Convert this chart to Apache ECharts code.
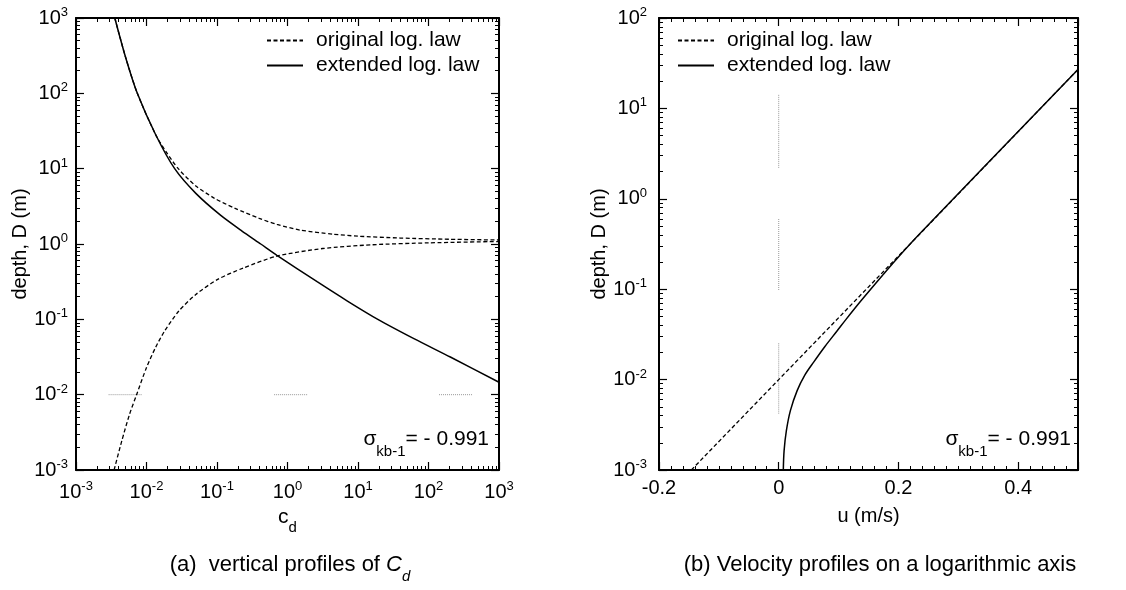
<!DOCTYPE html>
<html lang="en">
<head>
<meta charset="UTF-8" />
<title>cd and velocity profiles</title>
<script src="https://cdn.jsdelivr.net/npm/echarts@6/dist/echarts.min.js"></script>
<style>
  * { margin: 0; padding: 0; }
  body { background: #fff; }
  #charts { width: 1126px; height: 590px; }
</style>
</head>
<body>
<div id="charts"></div>
<script>
var legendNames = ["original log. law", "extended log. law"];

// (a) drag coefficient cd against depth D (m)
var cdExtended = [
  [0.00355, 1000], [0.00501, 309], [0.00741, 100], [0.0135, 28.2], [0.0251, 10],
  [0.0501, 4.7], [0.112, 2.415], [0.224, 1.496], [0.417, 1], [0.708, 0.708],
  [2.63, 0.316], [7.08, 0.175], [19.1, 0.1], [63.1, 0.055], [204, 0.0316], [1000, 0.0146]
];
var cdOriginalUpper = [
  [0.00355, 1000], [0.00501, 309], [0.00741, 100], [0.0135, 28.2], [0.0191, 16.6],
  [0.0282, 10], [0.0501, 5.89], [0.0912, 4.07], [0.178, 2.99], [0.398, 2.19],
  [0.708, 1.82], [1.51, 1.53], [4.47, 1.35], [10, 1.27], [39.8, 1.2], [200, 1.156], [1000, 1.13]
];
var cdOriginalLower = [
  [0.00347, 0.001], [0.00447, 0.00245], [0.00575, 0.0055], [0.00724, 0.01], [0.01, 0.0229],
  [0.0135, 0.0427], [0.0182, 0.0708], [0.0288, 0.129], [0.0501, 0.214], [0.102, 0.339],
  [0.234, 0.479], [0.708, 0.69], [3.16, 0.871], [15.8, 0.977], [100, 1.035], [1000, 1.08]
];
var cdGuideDepth = 0.01;
var cdGuideRanges = [[0.0029, 0.0086], [0.646, 1.95], [141, 417]];

// (b) velocity u (m/s) against depth D (m)
var uOriginal = [[-0.146, 0.001], [0, 0.01], [0.236, 0.41], [0.5, 27]];
var uExtended = [
  [0.0077, 0.001], [0.009, 0.00164], [0.0128, 0.00272], [0.0195, 0.00454], [0.0308, 0.00755],
  [0.0436, 0.0112], [0.059, 0.0158], [0.0769, 0.0231], [0.0974, 0.0345], [0.1128, 0.0467],
  [0.1385, 0.0759], [0.174, 0.144], [0.2, 0.2275], [0.236, 0.413], [0.5, 27]
];
var uGuideVelocity = 0;
var uGuideRanges = [[0.0042, 0.0254], [0.098, 0.61], [2.2, 14.5]];

var sigmaValue = "= - 0.991";

var font = "Liberation Sans, Arial, sans-serif";

var powRich = {
  b: { fontSize: 20, fontFamily: font, color: "#000", lineHeight: 24 },
  s: { fontSize: 13, fontFamily: font, color: "#000", verticalAlign: "top", lineHeight: 13 }
};
function powLabel(v) {
  return "{b|10}{s|" + Math.round(Math.log10(v)) + "}";
}

function frameAxis(grid, pos, withLabel) {
  return {
    gridIndex: grid,
    position: pos,
    axisLine: { show: true, onZero: false, lineStyle: { color: "#000", width: 2 } },
    axisTick: { show: true, inside: true, length: 8, lineStyle: { color: "#000", width: 1.2 } },
    splitLine: { show: false },
    axisLabel: { show: withLabel, color: "#000", fontFamily: font, fontSize: 20, margin: 8 }
  };
}
function logAxis(grid, pos, min, max, withLabel) {
  var a = frameAxis(grid, pos, withLabel);
  a.type = "log";
  a.logBase = 10;
  a.min = min;
  a.max = max;
  a.minorTick = { show: true, splitNumber: 9, length: 4, lineStyle: { color: "#000", width: 1 } };
  a.axisLabel.formatter = powLabel;
  a.axisLabel.rich = powRich;
  return a;
}
function valueAxis(grid, pos, withLabel) {
  var a = frameAxis(grid, pos, withLabel);
  a.type = "value";
  a.min = -0.2;
  a.max = 0.5;
  a.interval = 0.2;
  a.minorTick = { show: true, splitNumber: 10, length: 4, lineStyle: { color: "#000", width: 1 } };
  a.axisLabel.showMaxLabel = false;
  return a;
}

var dashed = { color: "#000", width: 1.3, type: [4, 2.5] };
var solid = { color: "#000", width: 1.5, type: "solid" };
function curve(name, data, style, xi, yi, smooth) {
  return {
    name: name, type: "line", data: data, xAxisIndex: xi, yAxisIndex: yi,
    symbol: "none", smooth: smooth, lineStyle: style, itemStyle: { color: "#000" },
    silent: true, z: 3
  };
}
function guide(data, xi, yi) {
  return {
    type: "line", data: data, xAxisIndex: xi, yAxisIndex: yi, symbol: "none", silent: true,
    lineStyle: { color: "#999", width: 1, type: "dotted" }, z: 1
  };
}

var series = [
  curve(legendNames[0], cdOriginalUpper, dashed, 0, 0, 0.25),
  curve(legendNames[0], cdOriginalLower, dashed, 0, 0, 0.25),
  curve(legendNames[1], cdExtended, solid, 0, 0, 0.25),
  curve(legendNames[0], uOriginal, dashed, 2, 2, false),
  curve(legendNames[1], uExtended, solid, 2, 2, 0.35)
];
cdGuideRanges.forEach(function (r) {
  series.push(guide([[r[0], cdGuideDepth], [r[1], cdGuideDepth]], 0, 0));
});
uGuideRanges.forEach(function (r) {
  series.push(guide([[uGuideVelocity, r[0]], [uGuideVelocity, r[1]]], 2, 2));
});

var xa0 = logAxis(0, "bottom", 1e-3, 1e3, true);
xa0.axisLabel.margin = 10;
xa0.name = "{c|c}{d|d}";
xa0.nameLocation = "middle";
xa0.nameGap = 36;
xa0.nameTextStyle = {
  rich: {
    c: { fontSize: 21, fontFamily: font, color: "#000", verticalAlign: "top", lineHeight: 28 },
    d: { fontSize: 15, fontFamily: font, color: "#000", verticalAlign: "bottom" }
  }
};
var ya0 = logAxis(0, "left", 1e-3, 1e3, true);
ya0.name = "depth, D (m)";
ya0.nameLocation = "middle";
ya0.nameGap = 38;
ya0.nameTextStyle = { fontSize: 20, fontFamily: font, color: "#000" };

var xa2 = valueAxis(1, "bottom", true);
xa2.name = "u (m/s)";
xa2.nameLocation = "middle";
xa2.nameGap = 36;
xa2.nameTextStyle = { fontSize: 20, fontFamily: font, color: "#000" };
var ya2 = logAxis(1, "left", 1e-3, 1e2, true);
ya2.axisLabel.margin = 12;
ya2.name = "depth, D (m)";
ya2.nameLocation = "middle";
ya2.nameGap = 46;
ya2.nameTextStyle = { fontSize: 20, fontFamily: font, color: "#000" };

var sigmaRich = {
  g: { fontSize: 21, fontFamily: font, color: "#000", verticalAlign: "top", lineHeight: 31 },
  k: { fontSize: 15, fontFamily: font, color: "#000", verticalAlign: "bottom" },
  t: { fontSize: 21, fontFamily: font, color: "#000", verticalAlign: "top", lineHeight: 31 }
};
var sigmaText = "{g|σ}{k|kb-1}{t|" + sigmaValue + "}";
var captionRich = {
  n: { fontSize: 22, fontFamily: font, color: "#000", verticalAlign: "top", lineHeight: 30 },
  i: { fontSize: 22, fontFamily: font, fontStyle: "italic", color: "#000", verticalAlign: "top", lineHeight: 30 },
  j: { fontSize: 15, fontFamily: font, fontStyle: "italic", color: "#000", verticalAlign: "bottom" }
};

function legendAt(left) {
  return {
    data: legendNames, orient: "vertical", left: left, top: 30, itemWidth: 36, itemHeight: 20,
    itemGap: 4, selectedMode: false, padding: 0, itemStyle: { opacity: 0 },
    textStyle: { fontSize: 21, fontFamily: font, color: "#000", padding: [0, 0, 0, 8] }
  };
}

var myEcharts = echarts.init(document.getElementById("charts"), null, { renderer: "canvas" });
myEcharts.setOption({
  animation: false,
  backgroundColor: "#fff",
  grid: [
    { left: 76, top: 18, width: 423, height: 452 },
    { left: 659, top: 18, width: 419, height: 452 }
  ],
  legend: [legendAt(266), legendAt(677)],
  xAxis: [xa0, logAxis(0, "top", 1e-3, 1e3, false), xa2, valueAxis(1, "top", false)],
  yAxis: [ya0, logAxis(0, "right", 1e-3, 1e3, false), ya2, logAxis(1, "right", 1e-3, 1e2, false)],
  series: series,
  graphic: [
    { type: "text", x: 489, y: 444, style: { text: sigmaText, rich: sigmaRich, align: "right", verticalAlign: "middle" } },
    { type: "text", x: 1071, y: 444, style: { text: sigmaText, rich: sigmaRich, align: "right", verticalAlign: "middle" } },
    { type: "text", x: 290, y: 569, style: { text: "{n|(a)  vertical profiles of }{i|C}{j|d}", rich: captionRich, align: "center", verticalAlign: "middle" } },
    { type: "text", x: 880, y: 569, style: { text: "{n|(b) Velocity profiles on a logarithmic axis}", rich: captionRich, align: "center", verticalAlign: "middle" } }
  ]
});
</script>
</body>
</html>
